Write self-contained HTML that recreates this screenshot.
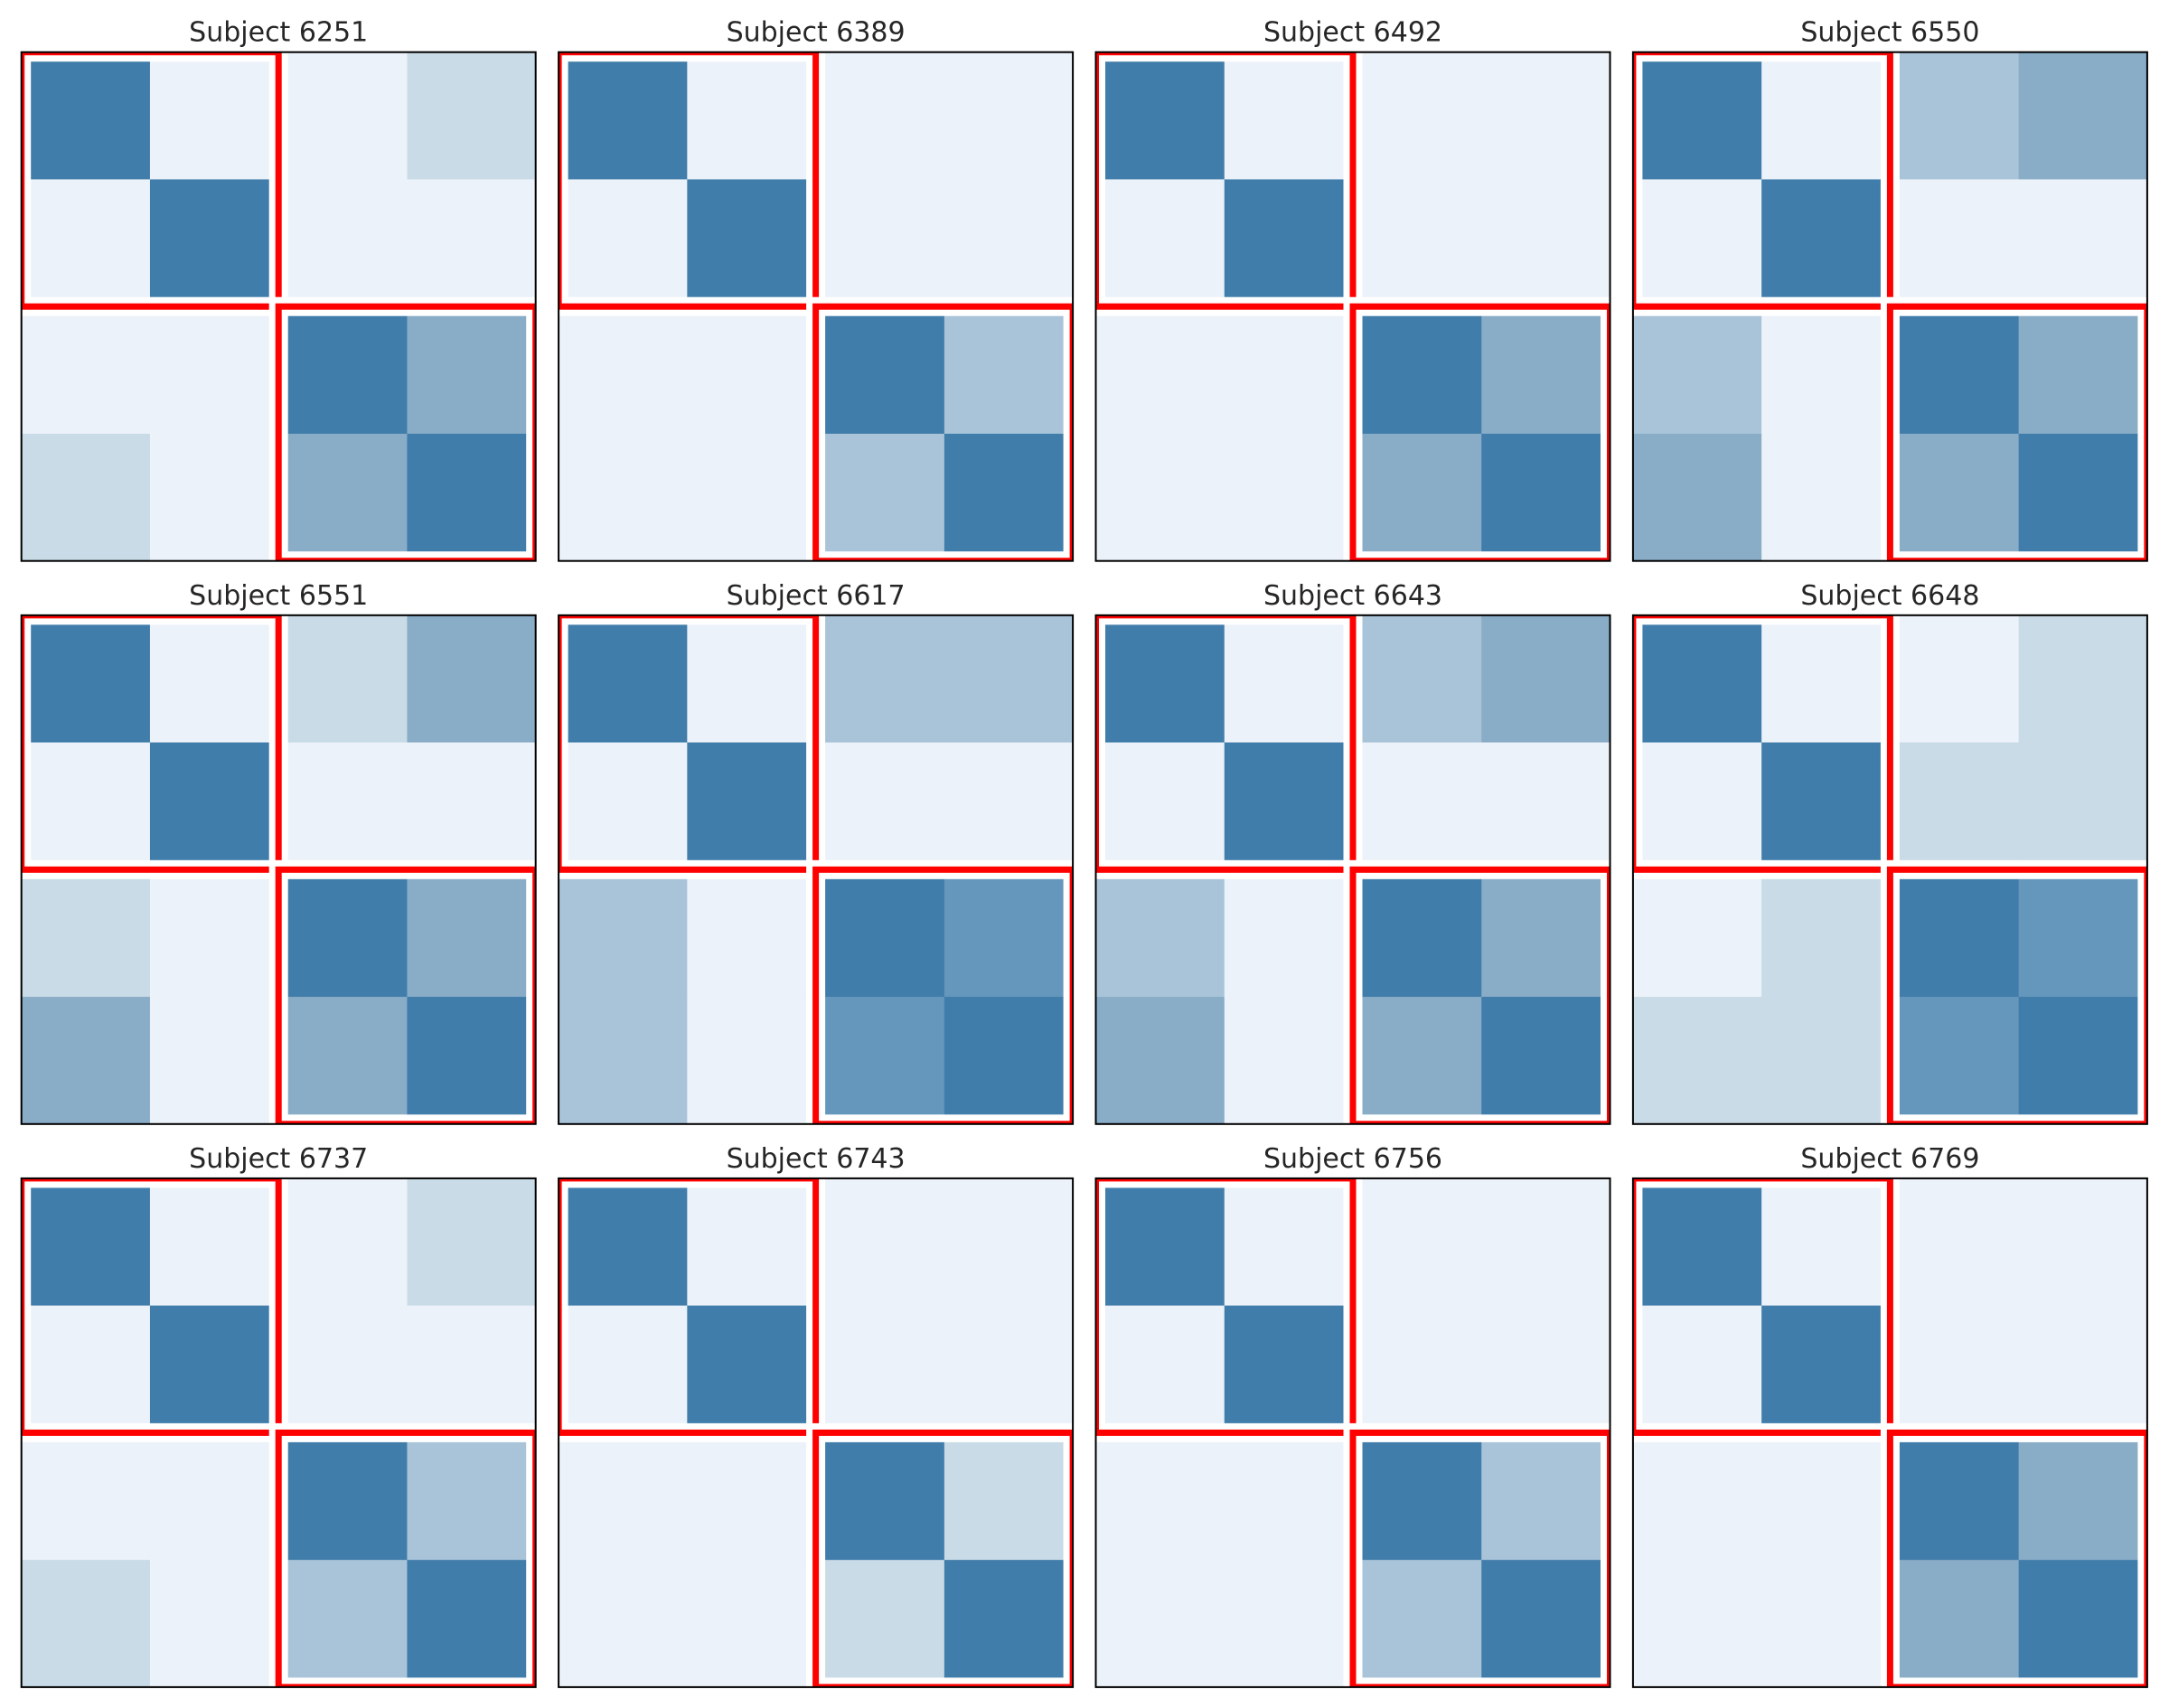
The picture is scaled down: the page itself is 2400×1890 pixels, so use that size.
<!DOCTYPE html>
<html><head><meta charset="utf-8"><style>
html,body{margin:0;padding:0;background:#fff;}
svg{display:block;}
</style></head><body>
<svg id="fig" width="2400" height="1890" viewBox="0 0 2400 1890" xmlns="http://www.w3.org/2000/svg"></svg>
<script>
const subjects = ["6251","6389","6492","6550","6551","6617","6643","6648","6737","6743","6756","6769"];
// matrices 4x4, values 0..1
const matrices = [
 [[1,0,0,0.2],[0,1,0,0],[0,0,1,0.6],[0.2,0,0.6,1]],
 [[1,0,0,0],[0,1,0,0],[0,0,1,0.4],[0,0,0.4,1]],
 [[1,0,0,0],[0,1,0,0],[0,0,1,0.6],[0,0,0.6,1]],
 [[1,0,0.4,0.6],[0,1,0,0],[0.4,0,1,0.6],[0.6,0,0.6,1]],
 [[1,0,0.2,0.6],[0,1,0,0],[0.2,0,1,0.6],[0.6,0,0.6,1]],
 [[1,0,0.4,0.4],[0,1,0,0],[0.4,0,1,0.8],[0.4,0,0.8,1]],
 [[1,0,0.4,0.6],[0,1,0,0],[0.4,0,1,0.6],[0.6,0,0.6,1]],
 [[1,0,0,0.2],[0,1,0.2,0.2],[0,0.2,1,0.8],[0.2,0.2,0.8,1]],
 [[1,0,0,0.2],[0,1,0,0],[0,0,1,0.4],[0.2,0,0.4,1]],
 [[1,0,0,0],[0,1,0,0],[0,0,1,0.2],[0,0,0.2,1]],
 [[1,0,0,0],[0,1,0,0],[0,0,1,0.4],[0,0,0.4,1]],
 [[1,0,0,0],[0,1,0,0],[0,0,1,0.6],[0,0,0.6,1]]
];
const palette = [[236,242,249],[201,219,230],[169,196,217],[137,172,199],[101,150,187],[65,125,170]];
function color(v){
  const t = Math.max(0,Math.min(1,v))*(palette.length-1);
  const i = Math.min(palette.length-2, Math.floor(t)), f = t-i;
  const c = palette[i].map((a,k)=>Math.round(a+(palette[i+1][k]-a)*f));
  return `rgb(${c[0]},${c[1]},${c[2]})`;
}
const NS="http://www.w3.org/2000/svg";
const svg=document.getElementById('fig');
const X0=23.7, Y0=57.7, DX=594.4, DY=623.1, W=569, H=563;
function mk(tag,attrs,parent){const e=document.createElementNS(NS,tag);for(const k in attrs)e.setAttribute(k,attrs[k]);(parent||svg).appendChild(e);return e;}
const defs=mk('defs',{});
subjects.forEach((s,p)=>{
  const col=p%4,row=Math.floor(p/4);
  const x0=X0+col*DX,y0=Y0+row*DY;
  const g=mk('g',{});
  
  
  const cp=mk('clipPath',{id:'cp'+p},defs);
  mk('rect',{x:x0,y:y0,width:W,height:H},cp);
  const hm=mk('g',{'clip-path':'url(#cp'+p+')'},g);
  
  
  const n=4,cw=W/n,ch=H/n;
  const xs=i=>x0+i*cw, ys=j=>y0+j*ch;
  matrices[p].forEach((r,j)=>r.forEach((v,i)=>{
    const c=mk('rect',{x:xs(i),y:ys(j),width:cw+0.5,height:ch+0.5,fill:color(v)},hm);
    
    
  }));
  [[0,2],[2,4]].forEach(([a,b],k)=>{
    const w=mk('rect',{x:xs(a),y:ys(a),width:xs(b)-xs(a),height:ys(b)-ys(a),fill:'none',stroke:'#fff','stroke-width':21},hm);
    
    
    const r=mk('rect',{x:xs(a),y:ys(a),width:xs(b)-xs(a),height:ys(b)-ys(a),fill:'none',stroke:'#ff0000','stroke-width':7},hm);
    
    
  });
  const f=mk('rect',{x:x0,y:y0,width:W,height:H,fill:'none',stroke:'#000','stroke-width':2},g);
  
  
  const t=mk('text',{x:x0+W/2,y:y0-12,'text-anchor':'middle','font-family':'DejaVu Sans, Liberation Sans, sans-serif','font-size':30,fill:'#262626'},g);
  t.textContent='Subject '+s;
  
  
});
</script>
</body></html>
